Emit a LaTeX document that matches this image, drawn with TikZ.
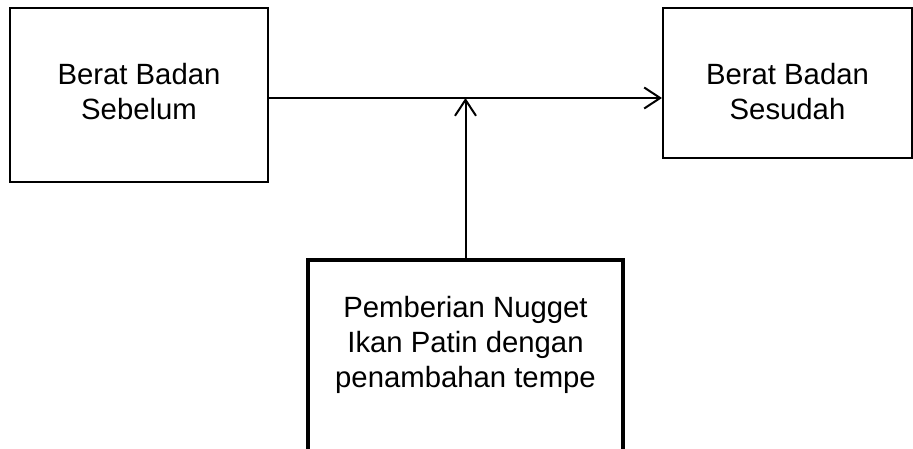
\documentclass[tikz,border=0pt]{standalone}
\usepackage{fontspec}
\setmainfont{Liberation Sans}
\usetikzlibrary{arrows.meta}
\tikzset{
  box/.style={draw, line width=2pt, inner sep=0pt},
  heavybox/.style={draw, line width=4.2pt, inner sep=0pt},
  label text/.style={align=center, inner sep=0pt,
    font=\fontsize{29.3}{35}\selectfont},
  flow/.style={line width=2pt, -{Straight Barb[length=16pt, width=21pt, line width=2pt]}}
}
\begin{document}
\begin{tikzpicture}[x=1pt, y=-1pt]
  \useasboundingbox (0,0) rectangle (913,449);
  % boxes
  \node[box, minimum width=258pt, minimum height=174pt] (before) at (139,95) {};
  \node[box, minimum width=249pt, minimum height=150pt] (after) at (787.5,83) {};
  \node[heavybox, minimum width=315pt, minimum height=210pt] (treat) at (465.5,365) {};
  % box texts
  \node[label text] (beforetext) at (139,92) {Berat Badan\\Sebelum};
  \node[label text] (aftertext) at (787.5,92) {Berat Badan\\Sesudah};
  \node[label text] (treattext) at (465.5,345) {Pemberian Nugget\\Ikan Patin dengan\\penambahan tempe};
  % connectors
  \coordinate (join) at (treat.north |- 0,98);
  \draw[flow] (before.east |- join) -- (after.west |- join);
  \draw[flow] (treat.north) -- (join);
\end{tikzpicture}
\end{document}
